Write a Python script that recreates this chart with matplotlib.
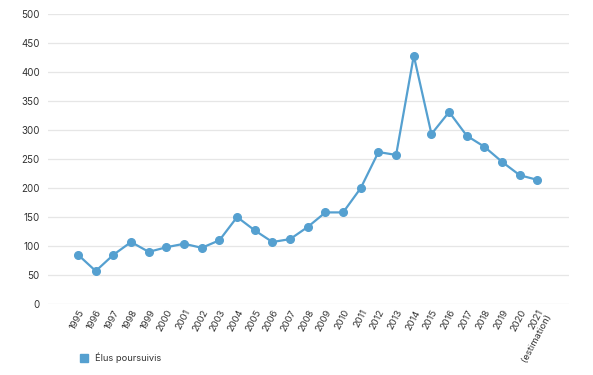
import matplotlib.pyplot as plt
from matplotlib.lines import Line2D

plt.rcParams['font.family'] = ['Inter', 'DejaVu Sans']

annees = ['1995', '1996', '1997', '1998', '1999', '2000', '2001', '2002', '2003',
          '2004', '2005', '2006', '2007', '2008', '2009', '2010', '2011', '2012',
          '2013', '2014', '2015', '2016', '2017', '2018', '2019', '2020',
          '2021\n(estimation)']
elus = [85, 57, 85, 107, 90, 98, 104, 97, 110, 150, 127, 107, 112, 133, 158, 158,
        200, 262, 257, 428, 293, 331, 290, 271, 245, 222, 214]
couleur = '#55a0d0'

fig = plt.figure(figsize=(5.93, 3.75), dpi=100)
ax = fig.add_axes([0.081, 0.189, 0.879, 0.774])

x = list(range(len(annees)))
ax.plot(x, elus, color=couleur, lw=1.6, marker='o', ms=5.5, zorder=3)

ax.set_ylim(0, 500)
ax.set_yticks(range(0, 501, 50))
ax.set_xlim(-1.7, 27.8)
ax.set_xticks(x)
ax.set_xticklabels(annees, rotation=62, ha='right', rotation_mode='anchor',
                   fontsize=6.8, color='#333333', linespacing=0.9)
ax.tick_params(axis='y', labelsize=7, colors='#333333', length=0, pad=6)
ax.tick_params(axis='x', length=0, pad=3)
ax.grid(axis='y', color='#e6e6e6', lw=0.9)
ax.set_axisbelow(True)
for s in ax.spines.values():
    s.set_visible(False)

poignee = Line2D([], [], color=couleur, marker='s', ls='none', ms=6)
fig.legend([poignee], ['Élus poursuivis'], loc='center left',
           bbox_to_anchor=(0.112, 0.045), frameon=False, fontsize=6.7,
           handletextpad=0.2, labelcolor='#333333')

fig.savefig('out.png', dpi=100)
